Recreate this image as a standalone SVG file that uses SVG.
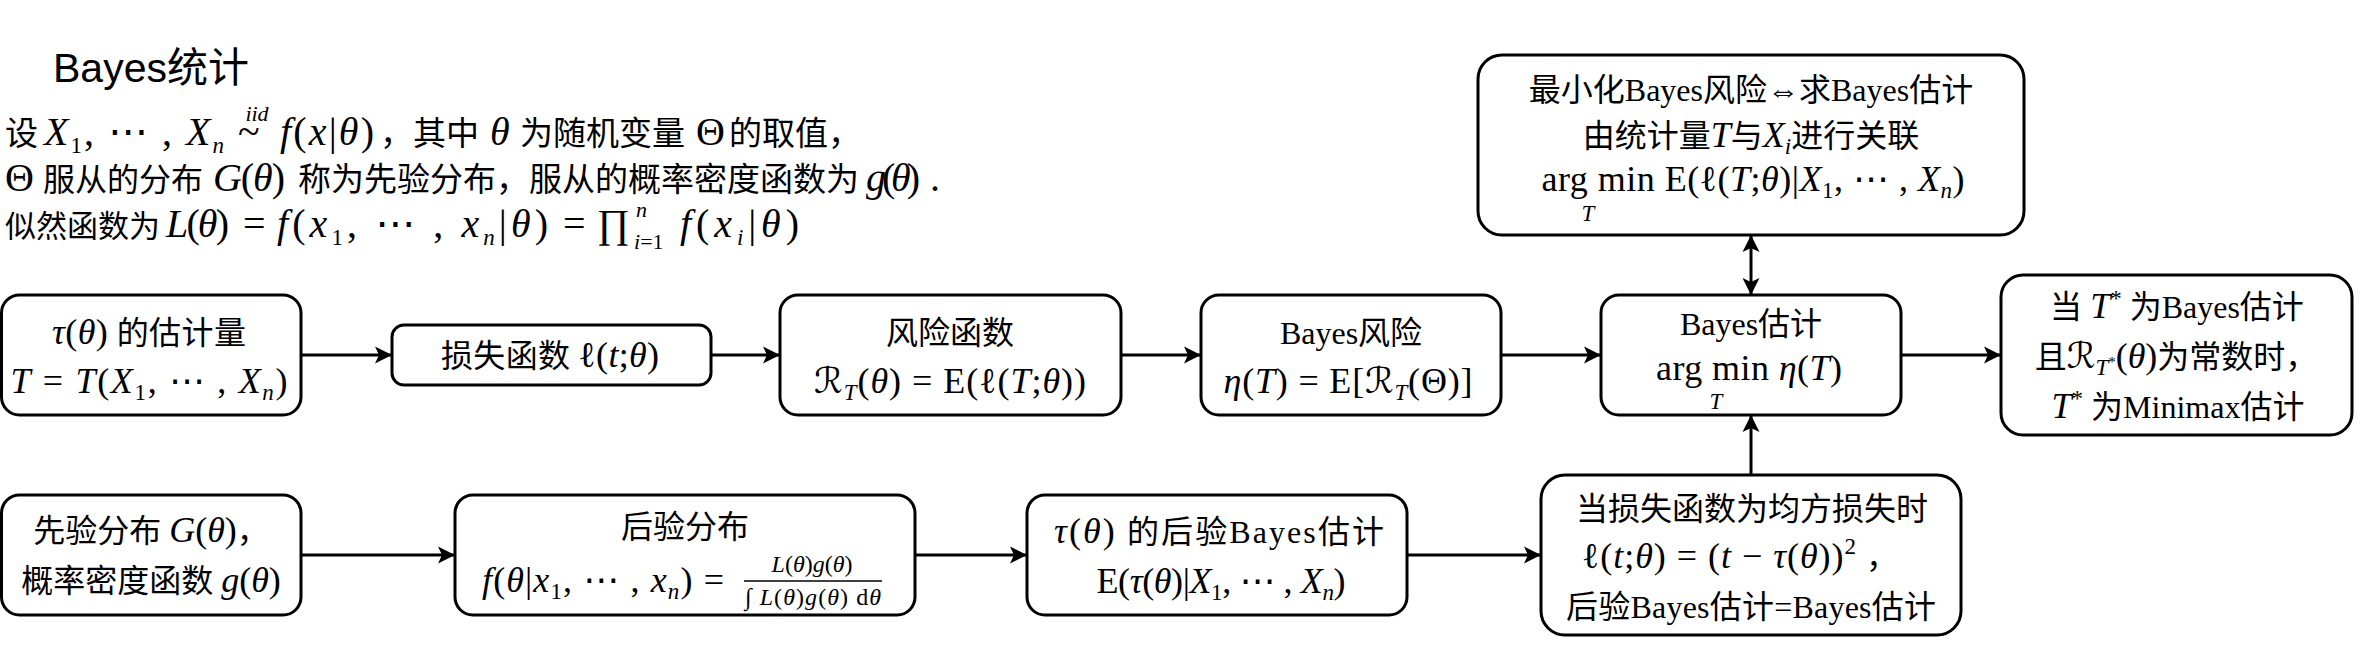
<svg xmlns="http://www.w3.org/2000/svg" width="2362" height="650" viewBox="0 0 2362 650">
<style>
.box{fill:#fff;stroke:#000;stroke-width:3}
.edge{stroke:#000;stroke-width:3;fill:none}
.t{font-family:"Liberation Serif","DejaVu Serif","DejaVu Sans","Noto Sans CJK SC",serif;font-size:32px;text-anchor:middle;fill:#000}
.d{font-family:"Liberation Serif","DejaVu Serif","DejaVu Sans","Noto Sans CJK SC",serif;font-size:33px;fill:#000}
.m{font-size:36px}
.dm{font-size:40px}
.i{font-style:italic}
.sb{font-size:23px}
.sm{font-size:22px}
.fr{font-size:24px}
.title{font-family:"Liberation Sans","Noto Sans CJK SC",sans-serif;font-size:41px;fill:#000}
</style>
<defs>
<marker id="arr" markerUnits="userSpaceOnUse" markerWidth="20" markerHeight="20" refX="17" refY="8.5" orient="auto-start-reverse" viewBox="0 0 20 17">
<path d="M0,0 L17,8.5 L0,17 L4,8.5 z" fill="#000"/>
</marker>
</defs>

<g id="header">
<text class="title" x="53" y="82">Bayes统计</text>
<text class="d" x="5" y="145">设</text>
<text class="d dm" x="44" y="145" textLength="180"><tspan class="i">X</tspan><tspan class="sb" dy="8">1</tspan><tspan dy="-8">, ⋯ , </tspan><tspan class="i">X</tspan><tspan class="sb i" dy="8">n</tspan></text>
<text class="d dm" x="238" y="145">~</text>
<text class="d i sm" x="257" y="121" style="text-anchor:middle">iid</text>
<text class="d dm" x="280" y="145" textLength="94"><tspan class="i">f</tspan>(<tspan class="i">x</tspan>|<tspan class="i">θ</tspan>)</text>
<text class="d" x="380" y="145">，其中</text>
<text class="d dm i" x="490" y="145">θ</text>
<text class="d" x="520" y="145">为随机变量</text>
<text class="d dm" x="696" y="145">Θ</text>
<text class="d" x="729" y="145">的取值，</text>

<text class="d dm" x="5" y="191">Θ</text>
<text class="d" x="43" y="191" style="font-size:32px">服从的分布</text>
<text class="d dm" x="213" y="191" textLength="72"><tspan class="i">G</tspan>(<tspan class="i">θ</tspan>)</text>
<text class="d" x="298" y="191">称为先验分布，服从的概率密度函数为</text>
<text class="d dm" x="866" y="191" textLength="54"><tspan class="i">g</tspan>(<tspan class="i">θ</tspan>)</text>
<text class="d dm" x="930" y="191">.</text>

<text class="d" x="5" y="237" style="font-size:31px">似然函数为</text>
<text class="d dm" x="166" y="237" textLength="63"><tspan class="i">L</tspan>(<tspan class="i">θ</tspan>)</text>
<text class="d dm" x="243" y="237">=</text>
<text class="d dm" x="277" y="237" textLength="271"><tspan class="i">f</tspan>(<tspan class="i">x</tspan><tspan class="sb" dy="8">1</tspan><tspan dy="-8">, ⋯ , </tspan><tspan class="i">x</tspan><tspan class="sb i" dy="8">n</tspan><tspan dy="-8">|</tspan><tspan class="i">θ</tspan>)</text>
<text class="d dm" x="563" y="237">=</text>
<text class="d dm" x="597" y="237">∏</text>
<text class="d sm i" x="636" y="217">n</text>
<text class="d sm" x="634" y="249"><tspan class="i">i</tspan>=1</text>
<text class="d dm" x="680" y="237" textLength="119"><tspan class="i">f</tspan>(<tspan class="i">x</tspan><tspan class="sb i" dy="8">i</tspan><tspan dy="-8">|</tspan><tspan class="i">θ</tspan>)</text>
</g>

<g id="n1">
<rect class="box" x="1.5" y="295" width="299.5" height="120" rx="18"/>
<text class="t" x="149" y="344" textLength="194"><tspan class="m"><tspan class="i">τ</tspan>(<tspan class="i">θ</tspan>)</tspan> 的估计量</text>
<text class="t m" x="149" y="393" textLength="277"><tspan class="i">T</tspan> = <tspan class="i">T</tspan>(<tspan class="i">X</tspan><tspan class="sb" dy="7">1</tspan><tspan dy="-7">, ⋯ , </tspan><tspan class="i">X</tspan><tspan class="sb i" dy="7">n</tspan><tspan dy="-7">)</tspan></text>
</g>

<g id="n2">
<rect class="box" x="392" y="325" width="319" height="60" rx="12"/>
<text class="t" x="550" y="367" textLength="218">损失函数 <tspan class="m">ℓ(<tspan class="i">t</tspan>;<tspan class="i">θ</tspan>)</tspan></text>
</g>

<g id="n3">
<rect class="box" x="780" y="295" width="341" height="120" rx="18"/>
<text class="t" x="950" y="344">风险函数</text>
<text class="t m" x="950" y="393" textLength="272">ℛ<tspan class="sb i" dy="7">T</tspan><tspan dy="-7">(</tspan><tspan class="i">θ</tspan>) = E(ℓ(<tspan class="i">T</tspan>;<tspan class="i">θ</tspan>))</text>
</g>

<g id="n4">
<rect class="box" x="1201" y="295" width="300" height="120" rx="18"/>
<text class="t" x="1351" y="344">Bayes风险</text>
<text class="t m" x="1348" y="393" textLength="249"><tspan class="i">η</tspan>(<tspan class="i">T</tspan>) = E[ℛ<tspan class="sb i" dy="7">T</tspan><tspan dy="-7">(Θ)]</tspan></text>
</g>

<g id="n5">
<rect class="box" x="1601" y="295" width="300" height="120" rx="18"/>
<text class="t" x="1751" y="335">Bayes估计</text>
<text class="t m" x="1749" y="380" textLength="186">arg min  <tspan class="i">η</tspan>(<tspan class="i">T</tspan>)</text>
<text class="t sb i" x="1716" y="409">T</text>
</g>

<g id="n6">
<rect class="box" x="2001" y="275" width="351" height="160" rx="22"/>
<text class="t" x="2177" y="318">当 <tspan class="m i">T</tspan><tspan class="sb" dy="-12">*</tspan><tspan dy="12"> 为Bayes估计</tspan></text>
<text class="t" x="2176" y="368">且<tspan class="m">ℛ</tspan><tspan class="sb i" dy="7">T</tspan><tspan font-size="15" dy="-8">*</tspan><tspan class="m" dy="1">(<tspan class="i">θ</tspan>)</tspan>为常数时，</text>
<text class="t" x="2178" y="418"><tspan class="m i">T</tspan><tspan class="sb" dy="-12">*</tspan><tspan dy="12"> 为Minimax估计</tspan></text>
</g>

<g id="n_top">
<rect class="box" x="1478" y="55" width="546" height="180" rx="24"/>
<text class="t" x="1751" y="101">最小化Bayes风险⇔求Bayes估计</text>
<text class="t" x="1751" y="147">由统计量<tspan class="m i">T</tspan>与<tspan class="m i">X</tspan><tspan class="sb i" dy="7">i</tspan><tspan dy="-7">进行关联</tspan></text>
<text class="t m" x="1753" y="191" textLength="423">arg min  E(ℓ(<tspan class="i">T</tspan>;<tspan class="i">θ</tspan>)|<tspan class="i">X</tspan><tspan class="sb" dy="7">1</tspan><tspan dy="-7">, ⋯ , </tspan><tspan class="i">X</tspan><tspan class="sb i" dy="7">n</tspan><tspan dy="-7">)</tspan></text>
<text class="t sb i" x="1588" y="221">T</text>
</g>

<g id="n7">
<rect class="box" x="1.5" y="495" width="299.5" height="120" rx="18"/>
<text class="t" x="151" y="542">先验分布 <tspan class="m"><tspan class="i">G</tspan>(<tspan class="i">θ</tspan>)</tspan>，</text>
<text class="t" x="151" y="592">概率密度函数 <tspan class="m"><tspan class="i">g</tspan>(<tspan class="i">θ</tspan>)</tspan></text>
</g>

<g id="n8">
<rect class="box" x="455" y="495" width="460" height="120" rx="18"/>
<text class="t" x="685" y="538">后验分布</text>
<text class="t m" x="724" y="592" style="text-anchor:end" textLength="242"><tspan class="i">f</tspan>(<tspan class="i">θ</tspan>|<tspan class="i">x</tspan><tspan class="sb" dy="7">1</tspan><tspan dy="-7">, ⋯ , </tspan><tspan class="i">x</tspan><tspan class="sb i" dy="7">n</tspan><tspan dy="-7">) =</tspan></text>
<text class="t fr" x="812" y="572"><tspan class="i">L</tspan>(<tspan class="i">θ</tspan>)<tspan class="i">g</tspan>(<tspan class="i">θ</tspan>)</text>
<line x1="744" y1="581" x2="882" y2="581" stroke="#000" stroke-width="1.5"/>
<text class="t fr" x="813" y="605" textLength="136">∫ <tspan class="i">L</tspan>(<tspan class="i">θ</tspan>)<tspan class="i">g</tspan>(<tspan class="i">θ</tspan>) d<tspan class="i">θ</tspan></text>
</g>

<g id="n9">
<rect class="box" x="1027" y="495" width="380" height="120" rx="18"/>
<text class="t" x="1219" y="543" textLength="330"><tspan class="m"><tspan class="i">τ</tspan>(<tspan class="i">θ</tspan>)</tspan> 的后验Bayes估计</text>
<text class="t m" x="1221" y="593" textLength="249">E(<tspan class="i">τ</tspan>(<tspan class="i">θ</tspan>)|<tspan class="i">X</tspan><tspan class="sb" dy="7">1</tspan><tspan dy="-7">, ⋯ , </tspan><tspan class="i">X</tspan><tspan class="sb i" dy="7">n</tspan><tspan dy="-7">)</tspan></text>
</g>

<g id="n10">
<rect class="box" x="1541" y="475" width="420" height="160" rx="24"/>
<text class="t" x="1752" y="520">当损失函数为均方损失时</text>
<text class="t" x="1740" y="568" textLength="316"><tspan class="m">ℓ(<tspan class="i">t</tspan>;<tspan class="i">θ</tspan>) = (<tspan class="i">t</tspan> − <tspan class="i">τ</tspan>(<tspan class="i">θ</tspan>))</tspan><tspan class="sb" dy="-14">2</tspan><tspan dy="14"> ，</tspan></text>
<text class="t" x="1751" y="618" textLength="370">后验Bayes估计=Bayes估计</text>
</g>

<g id="connectors">
<line class="edge" x1="301" y1="355" x2="392" y2="355" marker-end="url(#arr)"/>
<line class="edge" x1="711" y1="355" x2="780" y2="355" marker-end="url(#arr)"/>
<line class="edge" x1="1121" y1="355" x2="1201" y2="355" marker-end="url(#arr)"/>
<line class="edge" x1="1501" y1="355" x2="1601" y2="355" marker-end="url(#arr)"/>
<line class="edge" x1="1901" y1="355" x2="2001" y2="355" marker-end="url(#arr)"/>
<line class="edge" x1="1751" y1="235" x2="1751" y2="295" marker-start="url(#arr)" marker-end="url(#arr)"/>
<line class="edge" x1="1751" y1="475" x2="1751" y2="415" marker-end="url(#arr)"/>
<line class="edge" x1="301" y1="555" x2="455" y2="555" marker-end="url(#arr)"/>
<line class="edge" x1="915" y1="555" x2="1027" y2="555" marker-end="url(#arr)"/>
<line class="edge" x1="1407" y1="555" x2="1541" y2="555" marker-end="url(#arr)"/>
</g>
</svg>
